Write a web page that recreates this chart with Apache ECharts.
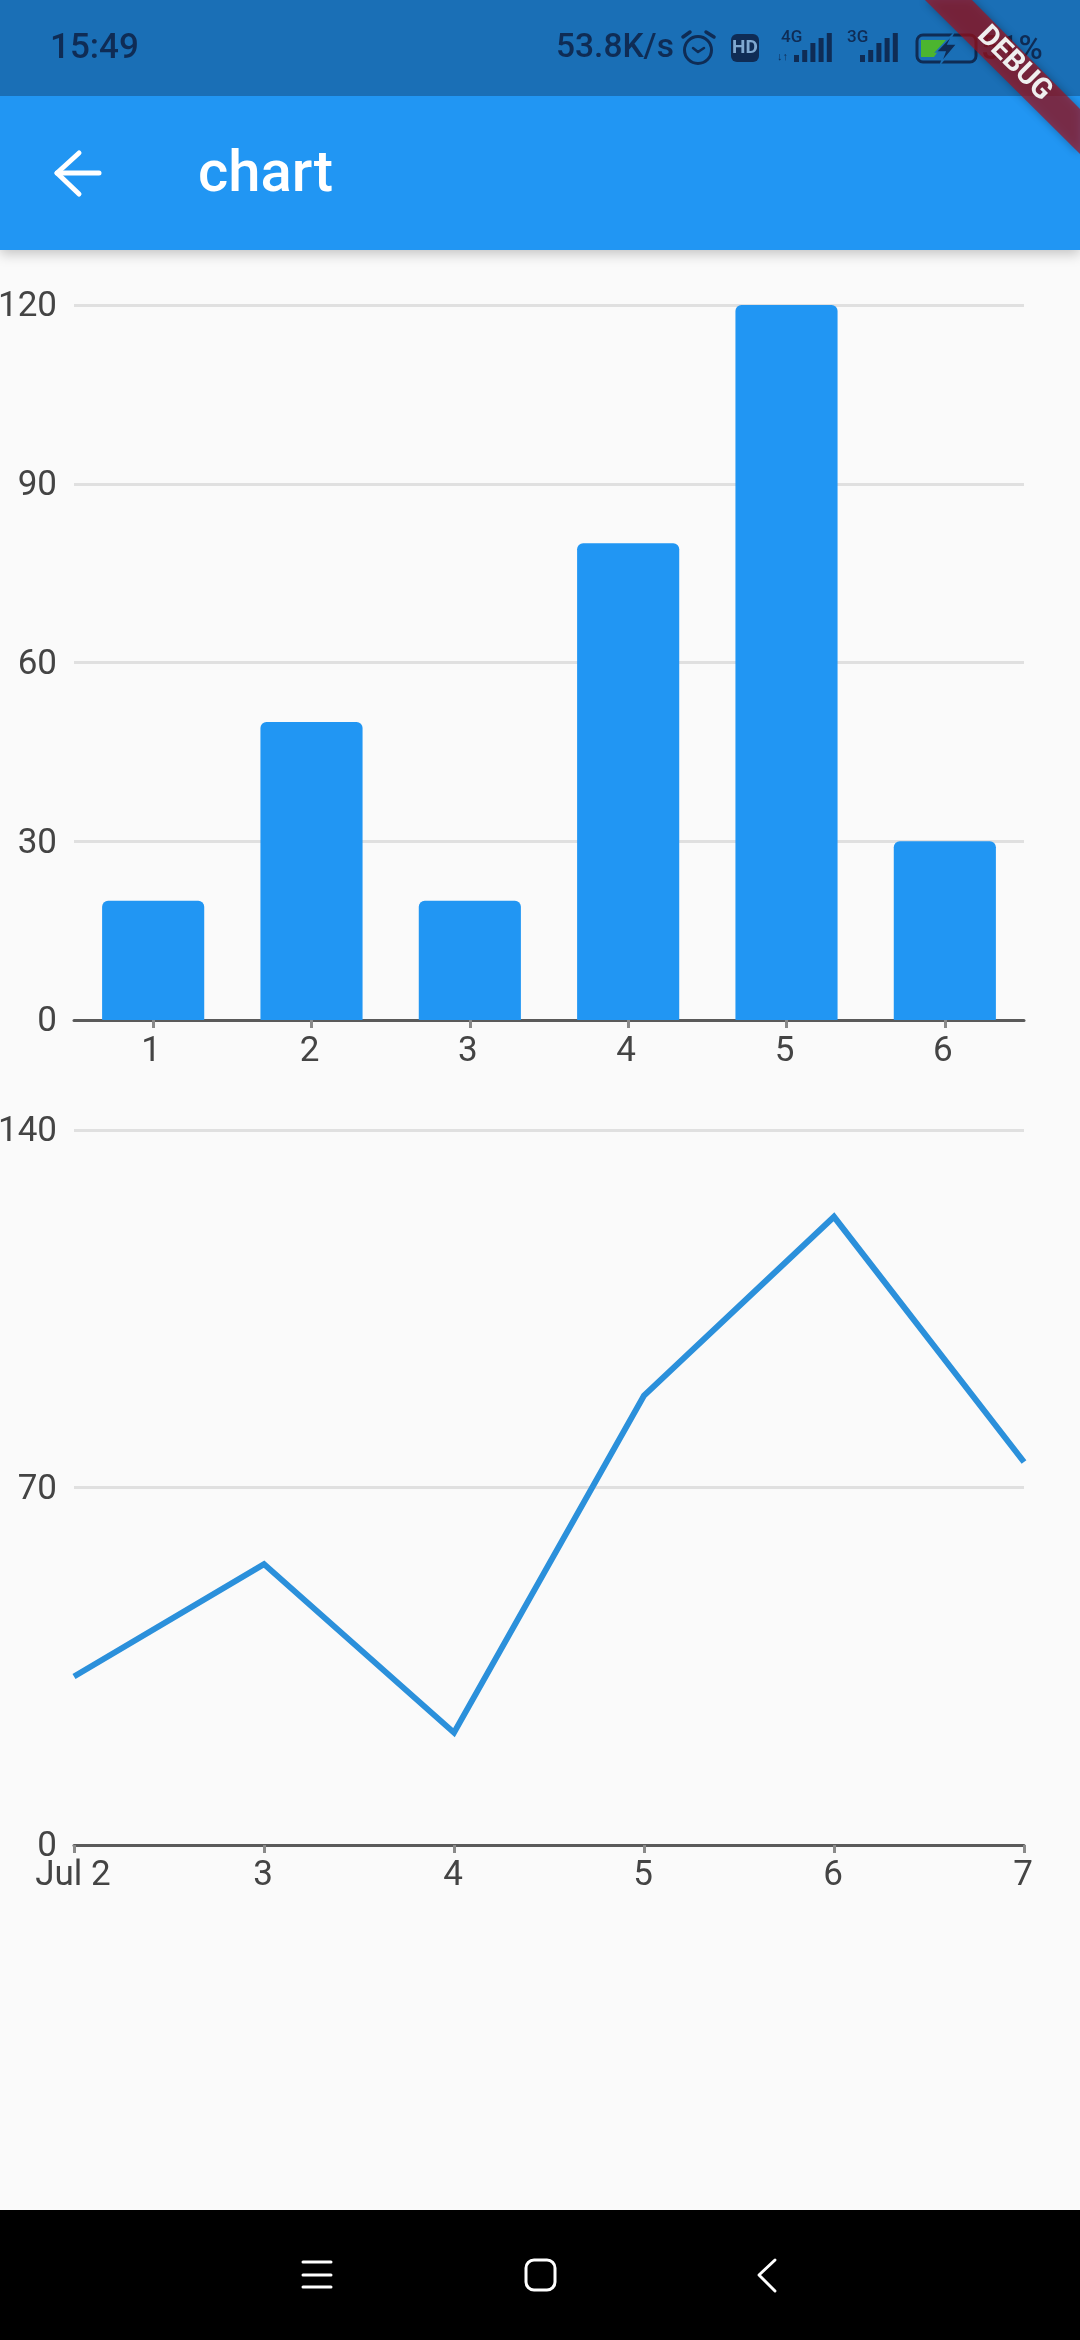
<!DOCTYPE html>
<html><head><meta charset="utf-8">
<style>html,body{margin:0;padding:0;background:#FAFAFA}#c{width:1080px;height:2340px}</style>
<script src="https://cdn.jsdelivr.net/npm/echarts@6/dist/echarts.min.js"></script>
</head><body><div id="c"></div>
<script>
const barCategories = ['1','2','3','4','5','6'];
const barValues = [20,50,20,80,120,30];
const lineCategories = ['Jul 2','3','4','5','6','7'];
const lineValues = [33,55,22,88,123,75];
const FONT = 'Roboto';
const DARK = '#0F2C55';
const STATUS = '#1A6FB6';

function rect(x,y,w,h,fill,r){return {type:'rect',shape:{x,y,width:w,height:h,r:r||0},style:{fill}};}
function txt(x,y,text,size,fill,weight,align){return {type:'text',x,y,style:{text,fontSize:size,fontFamily:FONT,fontWeight:weight||400,fill,textVerticalAlign:'middle',textAlign:align||'left'}};}
function poly(points,stroke,w){return {type:'polyline',shape:{points},style:{stroke,lineWidth:w,fill:null,lineCap:'round',lineJoin:'round'}};}
function signal(x0,base,color){
  const hs=[7,12,19,24,29];
  return hs.map((h,i)=>rect(x0+i*8.2,base-h,5,h,color));
}
const chrome = [
  {type:'rect',shape:{x:0,y:96,width:1080,height:154},style:{fill:'#2196F3',shadowBlur:12,shadowColor:'rgba(0,0,0,0.22)',shadowOffsetY:4}},
  rect(0,0,1080,96,STATUS),
  txt(50,49,'15:49',35,DARK,500),
  txt(556,49,'53.8K/s',33.5,DARK,500),
  {type:'circle',shape:{cx:698,cy:50,r:13.5},style:{fill:null,stroke:DARK,lineWidth:3}},
  poly([[693,48],[698,52],[704,48]],DARK,2.5),
  poly([[683,37],[690,32]],DARK,3.5),
  poly([[706,32],[714,37]],DARK,3.5),
  rect(731,34,28,28,DARK,6),
  txt(745,48,'HD',19,'#7FA8D0',700,'center'),
  txt(781,38,'4G',17,DARK,500),
  txt(777,57,'↓↑',11,DARK,500),
  ...signal(794,62,DARK),
  txt(847,38,'3G',17,DARK,500),
  ...signal(860,62,DARK),
  txt(981,51,'51%',33,DARK,500),
  {type:'rect',shape:{x:917,y:35,width:59,height:27,r:6},style:{fill:null,stroke:DARK,lineWidth:3}},
  {type:'polygon',shape:{points:[[921,40],[946,40],[934,57],[921,57]]},style:{fill:'#4CB52F'}},
  {type:'polygon',shape:{points:[[953,34],[936,52],[945,52],[941,63],[957,44],[948,44]]},style:{fill:DARK,stroke:STATUS,lineWidth:1.5}},
  {type:'polygon',shape:{points:[[925,0],[972,0],[1080,109],[1080,154]]},style:{fill:'rgba(165,15,25,0.68)',shadowBlur:8,shadowColor:'rgba(0,0,0,0.45)'}},
  {type:'text',x:1014,y:64,rotation:-Math.PI/4,style:{text:'DEBUG',fontSize:29,fontFamily:FONT,fontWeight:700,fill:'#EFEFEF',textAlign:'center',textVerticalAlign:'middle'}},
  poly([[79,153],[57,173],[79,194]],'#FFFFFF',5),
  poly([[57,173],[99,173]],'#FFFFFF',5),
  txt(198,176,'chart',58,'#FFFFFF',500),
  rect(0,2210,1080,130,'#000000'),
  poly([[303,2262],[331,2262]],'#FFFFFF',3),
  poly([[303,2275],[331,2275]],'#FFFFFF',3),
  poly([[303,2287],[331,2287]],'#FFFFFF',3),
  {type:'rect',shape:{x:526,y:2260,width:29,height:30,r:8},style:{fill:null,stroke:'#FFFFFF',lineWidth:3}},
  poly([[775,2260],[759,2275],[775,2291]],'#FFFFFF',3)
];

const labelStyle = {color:'#444444',fontSize:35,fontFamily:FONT};
const axisLine = {show:true,onZero:false,lineStyle:{color:'#5A5A5A',width:3}};
const axisTick = {show:true,length:8,lineStyle:{color:'#8A8A8A',width:3}};
const split = {show:true,lineStyle:{color:'#E0E0E0',width:3,type:'solid'}};
const yLabel = {margin:17,formatter:'{v|{value}}',rich:{v:Object.assign({padding:[5,0,0,0]},labelStyle)}};

const chart = echarts.init(document.getElementById('c'),null,{renderer:'canvas',width:1080,height:2340});
chart.setOption({
  animation:false,
  backgroundColor:'#FAFAFA',
  grid:[
    {left:74,width:950,top:305,height:715,outerBoundsMode:'none'},
    {left:74,width:950,top:1130,height:715,outerBoundsMode:'none'}
  ],
  xAxis:[
    {type:'category',gridIndex:0,data:barCategories,z:0,axisLine,axisTick:Object.assign({alignWithLabel:true},axisTick),axisLabel:Object.assign({margin:15,padding:[0,4,0,0]},labelStyle),splitLine:{show:false}},
    {type:'category',gridIndex:1,data:lineCategories,boundaryGap:false,z:0,axisLine,axisTick,axisLabel:Object.assign({margin:14,interval:0,showMinLabel:true,showMaxLabel:true,padding:[0,2,0,0]},labelStyle),splitLine:{show:false}}
  ],
  yAxis:[
    {type:'value',gridIndex:0,min:0,max:120,interval:30,z:0,axisLine:{show:false},axisTick:{show:false},axisLabel:yLabel,splitLine:split},
    {type:'value',gridIndex:1,min:0,max:140,interval:70,z:0,axisLine:{show:false},axisTick:{show:false},axisLabel:yLabel,splitLine:split}
  ],
  series:[
    {type:'bar',xAxisIndex:0,yAxisIndex:0,data:barValues,barWidth:'64.5%',z:3,itemStyle:{color:'#2196F3',borderRadius:[6,6,0,0]}},
    {type:'line',xAxisIndex:1,yAxisIndex:1,data:lineValues,showSymbol:false,z:3,lineStyle:{color:'#2B90DB',width:6,join:'miter'},clip:true}
  ],
  graphic:{elements:chrome}
});
</script></body></html>
